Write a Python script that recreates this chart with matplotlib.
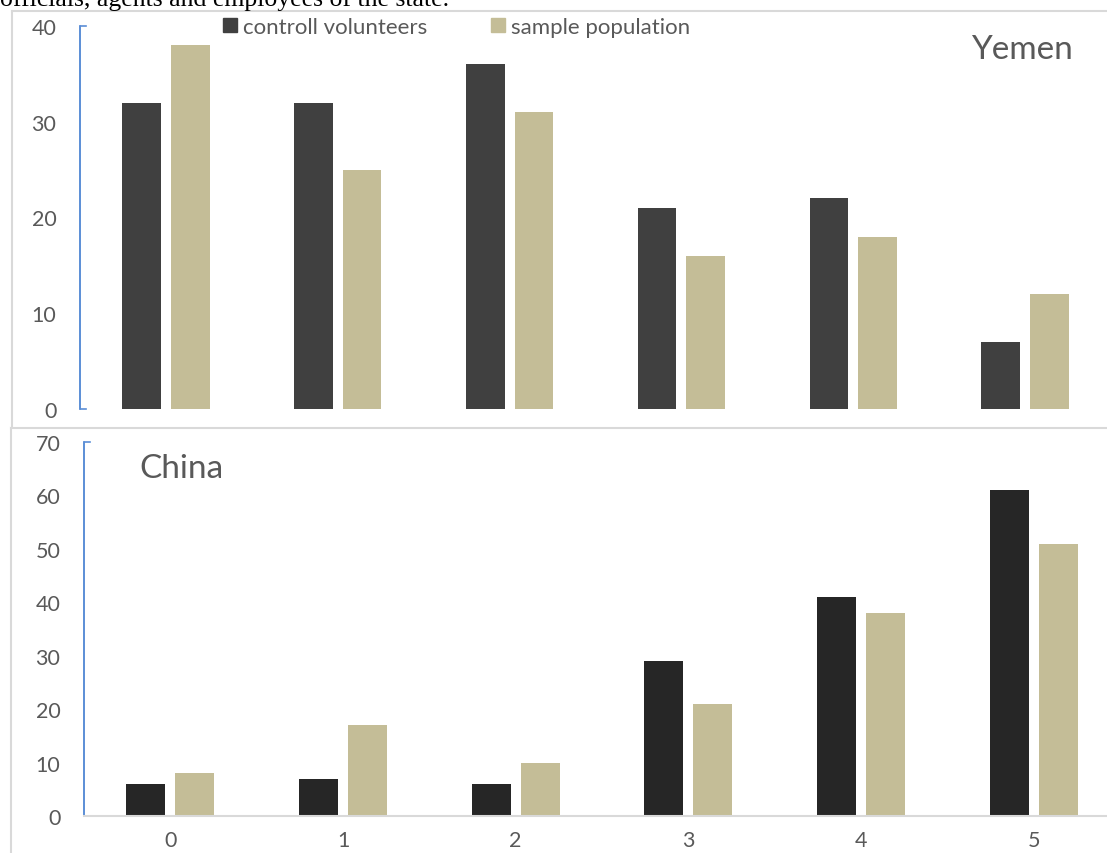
import matplotlib
matplotlib.use("Agg")
import matplotlib.pyplot as plt
from matplotlib.patches import Patch
from matplotlib.lines import Line2D
import numpy as np

plt.rcParams['font.family'] = ['Lato', 'DejaVu Sans']

categories = ['0', '1', '2', '3', '4', '5']
series_names = ['controll volunteers', 'sample population']
yemen_control = [32, 32, 36, 21, 22, 7]
yemen_sample = [38, 25, 31, 16, 18, 12]
china_control = [6, 7, 6, 29, 41, 61]
china_sample = [8, 17, 10, 21, 38, 51]

W, H = 1107, 854
fig = plt.figure(figsize=(W / 100, H / 100), dpi=100)

def fx(px):
    return px / W

def fy(py):
    return 1 - py / H

gray_txt = '#595959'
border = '#d9d9d9'
blue = '#5b8ed6'
tan = '#c4bd97'

# caption text cut at top
fig.text(fx(0), fy(6), 'officials, agents and employees of the state.',
         family='Liberation Serif', fontsize=18.5, va='baseline', ha='left', color='black')

# chart boxes
fig.add_artist(Line2D([fx(12), fx(1107)], [fy(12), fy(12)], color=border, lw=1.5))
fig.add_artist(Line2D([fx(12), fx(12)], [fy(12), fy(427)], color=border, lw=1.5))
fig.add_artist(Line2D([fx(11), fx(1107)], [fy(429), fy(429)], color=border, lw=1.5))
fig.add_artist(Line2D([fx(11), fx(11)], [fy(429), fy(854)], color=border, lw=1.5))

x = np.arange(len(categories))
bw = 0.225
off = 0.142

def setup(ax, ymax, step, show_x):
    ax.set_xlim(-0.5, 5.5)
    ax.set_ylim(0, ymax)
    ax.set_yticks(np.arange(0, ymax + 1, step))
    ax.tick_params(axis='y', length=0, pad=17, labelsize=15.5, labelcolor=gray_txt)
    for s in ['top', 'right']:
        ax.spines[s].set_visible(False)
    ax.spines['left'].set_color(blue)
    ax.spines['left'].set_linewidth(1.2)
    if show_x:
        ax.spines['bottom'].set_color(border)
        ax.spines['bottom'].set_linewidth(1.5)
        ax.set_xticks(x)
        ax.set_xticklabels(categories)
        ax.tick_params(axis='x', length=0, pad=10, labelsize=15.5, labelcolor=gray_txt)
    else:
        ax.spines['bottom'].set_visible(False)
        ax.set_xticks([])
    ax.patch.set_alpha(0)

# top: Yemen
ax1 = fig.add_axes([fx(80), fy(410), fx(1111 - 80), (410 - 27) / H])
ax1.bar(x - off, yemen_control, bw, color='#404040', zorder=2)
ax1.bar(x + off, yemen_sample, bw, color=tan, zorder=2)
setup(ax1, 40, 10, False)
ax1.plot([0.006, 0, 0, 0.006], [1, 1, 0, 0], transform=ax1.transAxes,
         color=blue, lw=1.2, clip_on=False)
ax1.text(fx(1073), fy(50), 'Yemen', transform=fig.transFigure, fontsize=24,
         color=gray_txt, ha='right', va='center')

# bottom: China
ax2 = fig.add_axes([fx(84), fy(817), fx(1120 - 84), (817 - 443) / H])
ax2.bar(x - off, china_control, bw, color='#262626', zorder=2)
ax2.bar(x + off, china_sample, bw, color=tan, zorder=2)
setup(ax2, 70, 10, True)
ax2.plot([0.006, 0, 0], [1, 1, 0], transform=ax2.transAxes,
         color=blue, lw=1.2, clip_on=False)
ax2.text(fx(139), fy(469), 'China', transform=fig.transFigure, fontsize=24,
         color=gray_txt, ha='left', va='center')

handles = [Patch(color='#404040'), Patch(color=tan)]
fig.legend(handles, series_names, loc='center left',
           bbox_to_anchor=(fx(223), fy(28)), frameon=False, ncol=2,
           fontsize=16, handlelength=0.63, handleheight=0.63,
           handletextpad=0.25, columnspacing=2.9, borderpad=0, borderaxespad=0,
           labelcolor=gray_txt)

fig.savefig('out.png', dpi=100)
